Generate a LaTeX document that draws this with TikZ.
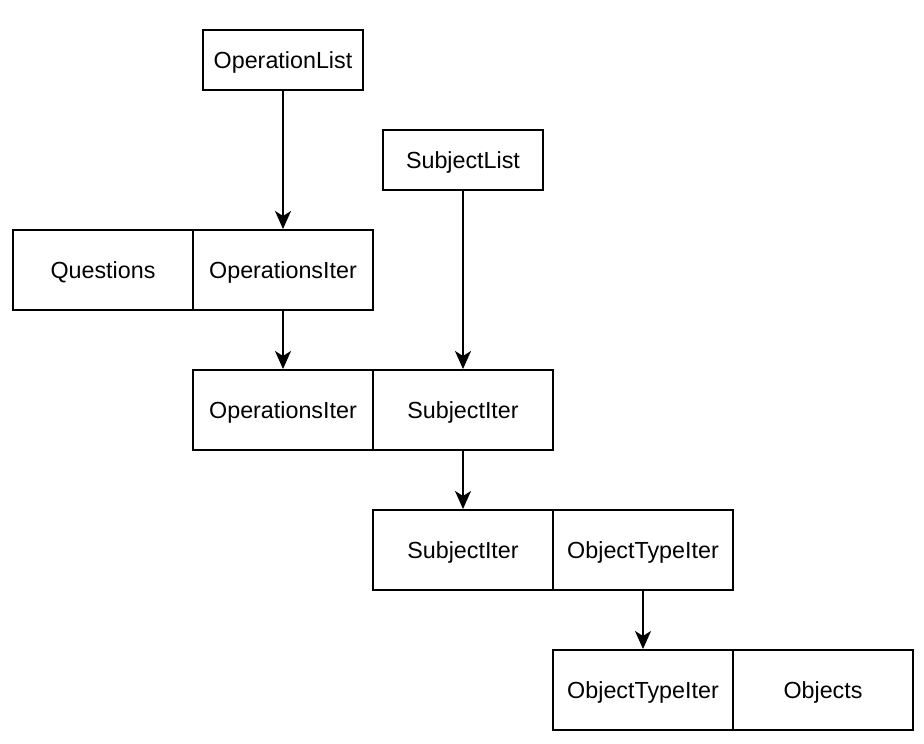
\documentclass[tikz,border=0pt]{standalone}
\usepackage{fontspec}
\setmainfont{Liberation Sans}
\usetikzlibrary{arrows.meta}
\begin{document}
\begin{tikzpicture}[x=1pt,y=-1pt,
  box/.style={draw=black,line width=2pt,fill=white,minimum width=180pt,minimum height=80pt,inner sep=0pt,text height=16.7pt,text depth=0pt,font=\fontsize{23.3}{28}\selectfont},
  sbox/.style={box,minimum width=160pt,minimum height=60pt},
  conn/.style={line width=2pt,-{Stealth[length=18pt,width=16pt,inset=5pt]}}]
\useasboundingbox[fill=white] (0,0) rectangle (924,744);
\node[sbox] (oplist) at (283,60) {OperationList};
\node[sbox] (sublist) at (463,160) {SubjectList};
\node[box] (q) at (103,270) {Questions};
\node[box] (opit1) at (283,270) {OperationsIter};
\node[box] (opit2) at (283,410) {OperationsIter};
\node[box] (subit1) at (463,410) {SubjectIter};
\node[box] (subit2) at (463,550) {SubjectIter};
\node[box] (otit1) at (643,550) {ObjectTypeIter};
\node[box] (otit2) at (643,690) {ObjectTypeIter};
\node[box] (obj) at (823,690) {Objects};
\draw[conn] (oplist) -- (opit1);
\draw[conn] (sublist) -- (subit1);
\draw[conn] (opit1) -- (opit2);
\draw[conn] (subit1) -- (subit2);
\draw[conn] (otit1) -- (otit2);
\end{tikzpicture}
\end{document}
